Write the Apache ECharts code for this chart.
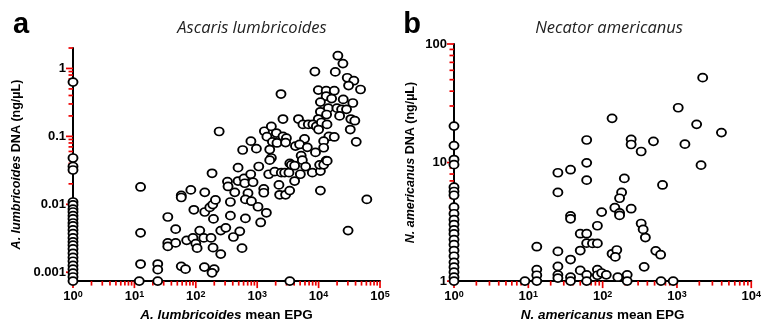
<!DOCTYPE html>
<html>
<head>
<meta charset="utf-8">
<script src="https://cdn.jsdelivr.net/npm/echarts@6/dist/echarts.min.js"></script>
<style>
  html, body { margin: 0; padding: 0; background: #fff; }
  #chart { width: 764px; height: 327px; }
</style>
</head>
<body>
<div id="chart"></div>
<script>
// ---- data ----
// [mean EPG, DNA ng/uL]; a 0 means none detected and sits on the axis
var ascarisPoints = [
  [20600,1.54],[24900,1.18],[8700,0.90],[18700,0.89],[29300,0.73],[37500,0.66],[30800,0.56],[48200,0.49],
  [2440,0.42],[9900,0.48],[13300,0.47],[18000,0.47],[13300,0.39],[16300,0.36],[10700,0.32],[25200,0.35],[36100,0.31],
  [14400,0.26],[19900,0.26],[23700,0.25],[28500,0.25],[10700,0.23],[13500,0.21],[22000,0.20],[33500,0.18],[38900,0.17],
  [2630,0.18],[4700,0.18],[9900,0.18],[5560,0.15],[6800,0.15],[8070,0.15],[9200,0.14],[11100,0.16],[13700,0.15],
  [10000,0.126],[32800,0.126],[1310,0.119],[1700,0.14],[2050,0.112],[1440,0.099],[2630,0.10],[2990,0.094],
  [1770,0.083],[2100,0.080],[2900,0.081],[5900,0.092],[14700,0.10],[18000,0.098],[12100,0.085],[41000,0.083],
  [4200,0.072],[4900,0.076],[6550,0.069],[12100,0.068],[790,0.085],[970,0.066],[1600,0.064],[8900,0.058],
  [5200,0.052],[1700,0.048],[3400,0.040],[13300,0.044],[240,0.118],[580,0.063],
  [12.6,0.018],[12.6,0.0038],[12.6,0.00132],[12,0],[24,0.00132],[24,0.00109],[24,0],
  [35,0.0065],[47,0.0043],[35,0.0027],[35,0.0024],[47,0.0027],[58,0.0135],[58,0.0126],[83,0.0163],[140,0.015],
  [184,0.0286],[93,0.0083],[140,0.0077],[169,0.009],[189,0.0099],[209,0.0116],[194,0.0061],
  [58,0.00122],[68,0.00111],[138,0.00119],[199,0.00111],[184,0.00098],
  [71,0.00295],[90,0.0032],[100,0.00264],[105,0.00226],[116,0.0041],[135,0.0032],[177,0.0032],[191,0.0023],
  [255,0.00185],[255,0.0041],[308,0.0045],[410,0.0033],[520,0.0040],[566,0.00226],[366,0.0068],[366,0.0108],
  [643,0.0062],[431,0.015],[328,0.0216],[335,0.0183],[488,0.0346],[488,0.022],[610,0.0241],[627,0.0204],
  [784,0.0277],[708,0.0146],[643,0.0118],[805,0.0111],[855,0.0211],
  [1060,0.036],[1600,0.0446],[1280,0.0169],[1280,0.0148],[1030,0.0092],[1410,0.0075],[1140,0.0054],
  [2260,0.0193],[2320,0.0138],[2900,0.0138],[3380,0.0159],[4070,0.022],[5040,0.0277],[1540,0.0277],[1930,0.0302],
  [2470,0.0292],[2800,0.0292],[3290,0.0292],[3600,0.0381],[4070,0.037],[5430,0.0446],[6150,0.0359],[7900,0.0292],
  [10700,0.0308],[10400,0.0381],[12100,0.0381],[13800,0.0435],[10700,0.0159],[61000,0.0118],[30200,0.0041],[3400,0]
];
// DNA of samples with no Ascaris eggs seen (EPG 0)
var ascarisNoEggsDna = [0.63,0.048,0.036,0.032,0.0108,0.0098,0.0085,0.0077,0.0068,0.0061,0.0053,0.0048,0.0042,
  0.0037,0.0032,0.0028,0.0025,0.0022,0.0019,0.00165,0.00145,0.00126,0.00111,0.00097,0.00085,0];

var necatorPoints = [
  [2220,52],[1040,29],[134,23.6],[1840,21],[3970,17.9],[61,15.5],[242,15.7],[242,14.2],[483,15.1],[1280,14.3],
  [330,12.4],[61,9.95],[2110,9.5],[25,8.2],[37,8.7],[61,7.1],[25,5.6],[196,7.35],[180,5.6],[169,5.0],[146,4.16],
  [169,3.76],[169,3.58],[97,3.82],[37,3.55],[37,3.35],[242,4.08],[640,6.47],[85,2.93],[330,3.06],[351,2.73],
  [376,2.33],[50,2.51],[61,2.51],[61,2.09],[73,2.08],[85,2.08],[13,1.95],[25,1.78],[50,1.81],[134,1.70],[155,1.83],
  [148,1.60],[519,1.80],[603,1.67],[37,1.52],[25,1.33],[362,1.32],[13,1.25],[13,1.12],[25,1.13],[25,1.06],[37,1.08],
  [50,1.23],[61,1.13],[85,1.25],[85,1.12],[97,1.17],[112,1.13],[160,1.08],[214,1.13],
  [13,0],[9,0],[37,0],[61,0],[214,0],[610,0],[890,0]
];
var necatorNoEggsDna = [20.3,13.9,10.6,9.6,6.2,5.7,5.3,4.2,3.7,3.3,3.0,2.7,2.5,2.24,2.03,1.81,1.62,1.44,1.31,1.19,1.08,0];

// axis ranges and labelled ticks
var epgTicksA = [1, 10, 100, 1000, 10000, 100000];
var dnaTicksA = [0.001, 0.01, 0.1, 1];
var epgTicksB = [1, 10, 100, 1000, 10000];
var dnaTicksB = [1, 10, 100];
var dnaMinA = 0.00074, dnaMaxA = 2;

var FONT = '"Liberation Sans", Arial, sans-serif';

function onAxis(pairs, yFloor) {
  return pairs.map(function (p) { return [p[0] > 0 ? p[0] : 1, p[1] > 0 ? p[1] : yFloor]; });
}
function noEggs(list, yFloor) {
  return list.map(function (d) { return [1, d > 0 ? d : yFloor]; });
}
function isLabelled(v, list) {
  return list.some(function (t) { return Math.abs(Math.log10(v) - Math.log10(t)) < 1e-6; });
}
function minorTicks(lo, hi) {
  var out = [];
  for (var e = Math.floor(Math.log10(lo)); e <= Math.ceil(Math.log10(hi)); e++) {
    for (var m = 2; m <= 9; m++) {
      var v = m * Math.pow(10, e);
      if (v >= lo * 0.999 && v <= hi * 1.001) out.push(v);
    }
  }
  return out;
}
// log tick marks drawn as thin bar symbols sitting on the axes
function tickItems(xMajor, xMin, xMax, yMajor, yMin, yMax) {
  var d = [];
  function xt(v, len) { d.push({ value: [v, yMin], symbolSize: [1.7, len], symbolOffset: [0, len / 2] }); }
  function yt(v, len) { d.push({ value: [xMin, v], symbolSize: [len, 1.7], symbolOffset: [-len / 2, 0] }); }
  xMajor.forEach(function (v) { xt(v, 7); });
  minorTicks(xMin, xMax).forEach(function (v) { xt(v, 4.5); });
  yMajor.forEach(function (v) { yt(v, 7); });
  minorTicks(yMin, yMax).forEach(function (v) { yt(v, 4.5); });
  return d;
}
function tickSeries(xi, data) {
  return {
    type: 'scatter', xAxisIndex: xi, yAxisIndex: xi, data: data, z: 1, silent: true, clip: false,
    symbol: 'rect', itemStyle: { color: '#e00', opacity: 1 }
  };
}

function epgAxis(gridIndex, max, labelled, nameRich) {
  return {
    type: 'log', logBase: 10, gridIndex: gridIndex, min: 1, max: max,
    name: nameRich, nameLocation: 'middle', nameGap: 23,
    nameTextStyle: {
      color: '#000', fontFamily: FONT, fontWeight: 'bold', fontSize: 13.5,
      rich: { i: { color: '#000', fontFamily: FONT, fontWeight: 'bold', fontStyle: 'italic', fontSize: 13.5 } }
    },
    axisLine: { lineStyle: { color: '#000', width: 2 } },
    axisTick: { show: false },
    splitLine: { show: false },
    axisLabel: {
      margin: 9,
      formatter: function (v) {
        if (!isLabelled(v, labelled)) return '';
        return '{b|10}{s|' + Math.round(Math.log10(v)) + '}';
      },
      rich: {
        b: { color: '#000', fontFamily: FONT, fontWeight: 'bold', fontSize: 13 },
        s: { color: '#000', fontFamily: FONT, fontWeight: 'bold', fontSize: 9, verticalAlign: 'top' }
      }
    }
  };
}
function dnaAxis(gridIndex, min, max, labelled, nameRich, gap) {
  return {
    type: 'log', logBase: 10, gridIndex: gridIndex, min: min, max: max,
    name: nameRich, nameLocation: 'middle', nameGap: gap, nameRotate: 90,
    nameTextStyle: {
      color: '#000', fontFamily: FONT, fontWeight: 'bold', fontSize: 12.5,
      rich: { i: { color: '#000', fontFamily: FONT, fontWeight: 'bold', fontStyle: 'italic', fontSize: 12.5 } }
    },
    axisLine: { lineStyle: { color: '#000', width: 2 } },
    axisTick: { show: false },
    splitLine: { show: false },
    axisLabel: {
      margin: 7, color: '#000', fontFamily: FONT, fontWeight: 'bold', fontSize: 13,
      formatter: function (v) {
        if (!isLabelled(v, labelled)) return '';
        return String(Number(v.toPrecision(3)));
      }
    }
  };
}
function dots(xi, data) {
  return {
    type: 'scatter', xAxisIndex: xi, yAxisIndex: xi, data: data, z: 3, clip: false,
    symbol: 'circle', symbolSize: [9, 8],
    itemStyle: { color: '#fff', borderColor: '#000', borderWidth: 1.8, opacity: 1 }
  };
}

var chart = echarts.init(document.getElementById('chart'), null, { renderer: 'canvas' });
chart.setOption({
  animation: false,
  backgroundColor: '#fff',
  grid: [
    { left: 73, top: 48, width: 307, height: 236 },
    { left: 454, top: 44, width: 306, height: 240 }
  ],
  xAxis: [
    epgAxis(0, 100000, epgTicksA, '{i|A. lumbricoides} mean EPG'),
    epgAxis(1, 10000, epgTicksB, '{i|N. americanus} mean EPG')
  ],
  yAxis: [
    dnaAxis(0, dnaMinA, dnaMaxA, dnaTicksA, '{i|A. lumbricoides} DNA (ng/\u00b5L)', 50),
    dnaAxis(1, 1, 100, dnaTicksB, '{i|N. americanus} DNA (ng/\u00b5L)', 37)
  ],
  graphic: [
    { type: 'text', style: { x: 21, y: 25, text: 'a', font: 'bold 29px ' + FONT, fill: '#000', textAlign: 'center', textVerticalAlign: 'middle' } },
    { type: 'text', style: { x: 412, y: 25, text: 'b', font: 'bold 29px ' + FONT, fill: '#000', textAlign: 'center', textVerticalAlign: 'middle' } },
    { type: 'text', style: { x: 252, y: 28, text: 'Ascaris lumbricoides', font: 'italic 16.5px "Open Sans", sans-serif', fill: '#222', textAlign: 'center', textVerticalAlign: 'middle' } },
    { type: 'text', style: { x: 609, y: 28, text: 'Necator americanus', font: 'italic 16.5px "Open Sans", sans-serif', fill: '#222', textAlign: 'center', textVerticalAlign: 'middle' } }
  ],
  series: [
    tickSeries(0, tickItems(epgTicksA, 1, 100000, dnaTicksA, dnaMinA, dnaMaxA)),
    tickSeries(1, tickItems(epgTicksB, 1, 10000, dnaTicksB, 1, 100)),
    dots(0, onAxis(ascarisPoints, dnaMinA).concat(noEggs(ascarisNoEggsDna, dnaMinA))),
    dots(1, onAxis(necatorPoints, 1).concat(noEggs(necatorNoEggsDna, 1)))
  ]
});
</script>
</body>
</html>
